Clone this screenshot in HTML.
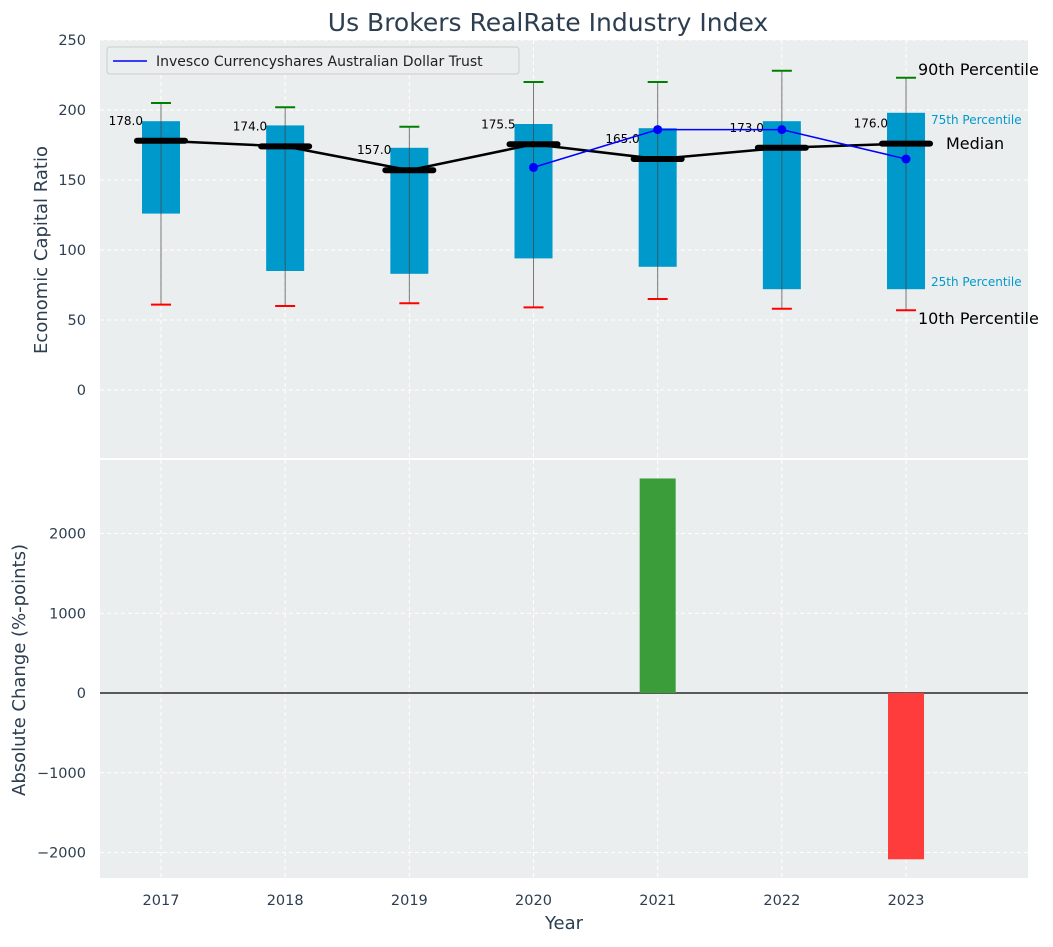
<!DOCTYPE html>
<html><head><meta charset="utf-8"><style>
body{margin:0;background:#fff;font-family:"Liberation Sans","DejaVu Sans",sans-serif}
svg text{font-family:"DejaVu Sans","Liberation Sans",sans-serif}
</style></head><body>
<svg id="c" width="1053" height="942" xmlns="http://www.w3.org/2000/svg"></svg>
<script>
const years=[2017,2018,2019,2020,2021,2022,2023];
const p10=[61,60,62,59,65,58,57];
const p25=[126,85,83,94,88,72,72];
const medians=[178,174,157,175.5,165,173,176];
const p75=[192,189,173,190,187,192,198];
const p90=[205,202,188,220,220,228,223];
const trustYears=[2020,2021,2022,2023];
const trustVals=[159,186,186,165];
const changeYears=[2021,2023];
const changeVals=[2690,-2085];
const topTicks=[0,50,100,150,200,250];
const botTicks=[-2000,-1000,0,1000,2000];

const S=document.getElementById('c');const NS='http://www.w3.org/2000/svg';
function el(t,a,p){const e=document.createElementNS(NS,t);for(const k in a)e.setAttribute(k,a[k]);(p||S).appendChild(e);return e;}
const L=100,R=1028;
const x=v=>161+(v-2017)*124.17;
const yT=v=>390-v*1.4;
const yB=v=>693-v*0.07975;
const bg1=el('rect',{x:L,y:40,width:R-L,height:418,fill:'#ebeeee'});


const bg2=el('rect',{x:L,y:460,width:R-L,height:418,fill:'#ebeeee'});


years.forEach(yr=>{el('line',{x1:x(yr),x2:x(yr),y1:40,y2:458,stroke:'#fff','stroke-dasharray':'4,3'});el('line',{x1:x(yr),x2:x(yr),y1:460,y2:878,stroke:'#fff','stroke-dasharray':'4,3'});});
topTicks.forEach(v=>{el('line',{x1:L,x2:R,y1:yT(v),y2:yT(v),stroke:'#fff','stroke-dasharray':'4,3'});
const t=el('text',{x:86,y:yT(v)+5,'text-anchor':'end','font-size':14.5,fill:'#2c3e50'});t.textContent=v;

});
botTicks.forEach(v=>{el('line',{x1:L,x2:R,y1:yB(v),y2:yB(v),stroke:'#fff','stroke-dasharray':'4,3'});
const t=el('text',{x:86,y:yB(v)+5,'text-anchor':'end','font-size':14.5,fill:'#2c3e50'});t.textContent=v<0?'\u2212'+(-v):v;

});
years.forEach((yr,i)=>{const cx=x(yr);
const b=el('rect',{x:cx-19,y:yT(p75[i]),width:38,height:yT(p25[i])-yT(p75[i]),fill:'#0099cc'});


el('line',{x1:cx,x2:cx,y1:yT(p90[i]),y2:yT(p10[i]),stroke:'#444','stroke-width':1,opacity:0.7});
el('line',{x1:cx-10,x2:cx+10,y1:yT(p90[i]),y2:yT(p90[i]),stroke:'green','stroke-width':2});
el('line',{x1:cx-10,x2:cx+10,y1:yT(p10[i]),y2:yT(p10[i]),stroke:'red','stroke-width':2});
});
const mp=el('polyline',{points:years.map((yr,i)=>x(yr)+','+yT(medians[i])).join(' '),fill:'none',stroke:'#000','stroke-width':2.5});


years.forEach((yr,i)=>{const cx=x(yr);
el('line',{x1:cx-24,x2:cx+24,y1:yT(medians[i]),y2:yT(medians[i]),stroke:'#000','stroke-width':6,'stroke-linecap':'round'});
const t=el('text',{x:cx-18,y:yT(medians[i])-16,'text-anchor':'end','font-size':12,fill:'#000'});t.textContent=medians[i].toFixed(1);

});
const tl=el('polyline',{points:trustYears.map((yr,i)=>x(yr)+','+yT(trustVals[i])).join(' '),fill:'none',stroke:'blue','stroke-width':1.5});


trustYears.forEach((yr,i)=>el('circle',{cx:x(yr),cy:yT(trustVals[i]),r:4.5,fill:'blue'}));
[['90th Percentile',918,75,16,'#000'],['75th Percentile',931,124,12,'#0099cc'],['Median',946,149,16,'#000'],['25th Percentile',931,286,12,'#0099cc'],['10th Percentile',918,324,16,'#000']].forEach(a=>{
const t=el('text',{x:a[1],y:a[2],'font-size':a[3],fill:a[4]});t.textContent=a[0];

});
const lg=el('g',{});


el('rect',{x:107,y:47,width:412,height:27,rx:3,fill:'#ebeeee',stroke:'#ccc'},lg);
el('line',{x1:113,x2:147,y1:61,y2:61,stroke:'blue','stroke-width':1.5},lg);
const lt=el('text',{x:156,y:66,'font-size':14,fill:'#222'},lg);lt.textContent='Invesco Currencyshares Australian Dollar Trust';
el('line',{x1:L,x2:R,y1:yB(0),y2:yB(0),stroke:'#000','stroke-width':1.2});
changeYears.forEach((yr,i)=>{const v=changeVals[i];
const b=el('rect',{x:x(yr)-18,y:Math.min(yB(v),yB(0)),width:36,height:Math.abs(yB(v)-yB(0)),fill:v>=0?'#3a9d3a':'#ff3c3c'});

});
years.forEach(yr=>{const t=el('text',{x:x(yr),y:905,'text-anchor':'middle','font-size':14.5,fill:'#2c3e50'});t.textContent=yr;

});
const ti=el('text',{x:548,y:31,'text-anchor':'middle','font-size':25,fill:'#2c3e50'});ti.textContent='Us Brokers RealRate Industry Index';


const xl=el('text',{x:564,y:929,'text-anchor':'middle','font-size':18,fill:'#2c3e50'});xl.textContent='Year';


const y1=el('text',{x:0,y:0,'text-anchor':'middle','font-size':18,fill:'#2c3e50',transform:'translate(47,250) rotate(-90)'});y1.textContent='Economic Capital Ratio';


const y2=el('text',{x:0,y:0,'text-anchor':'middle','font-size':18,fill:'#2c3e50',transform:'translate(25,670) rotate(-90)'});y2.textContent='Absolute Change (%-points)';


</script>
</body></html>
